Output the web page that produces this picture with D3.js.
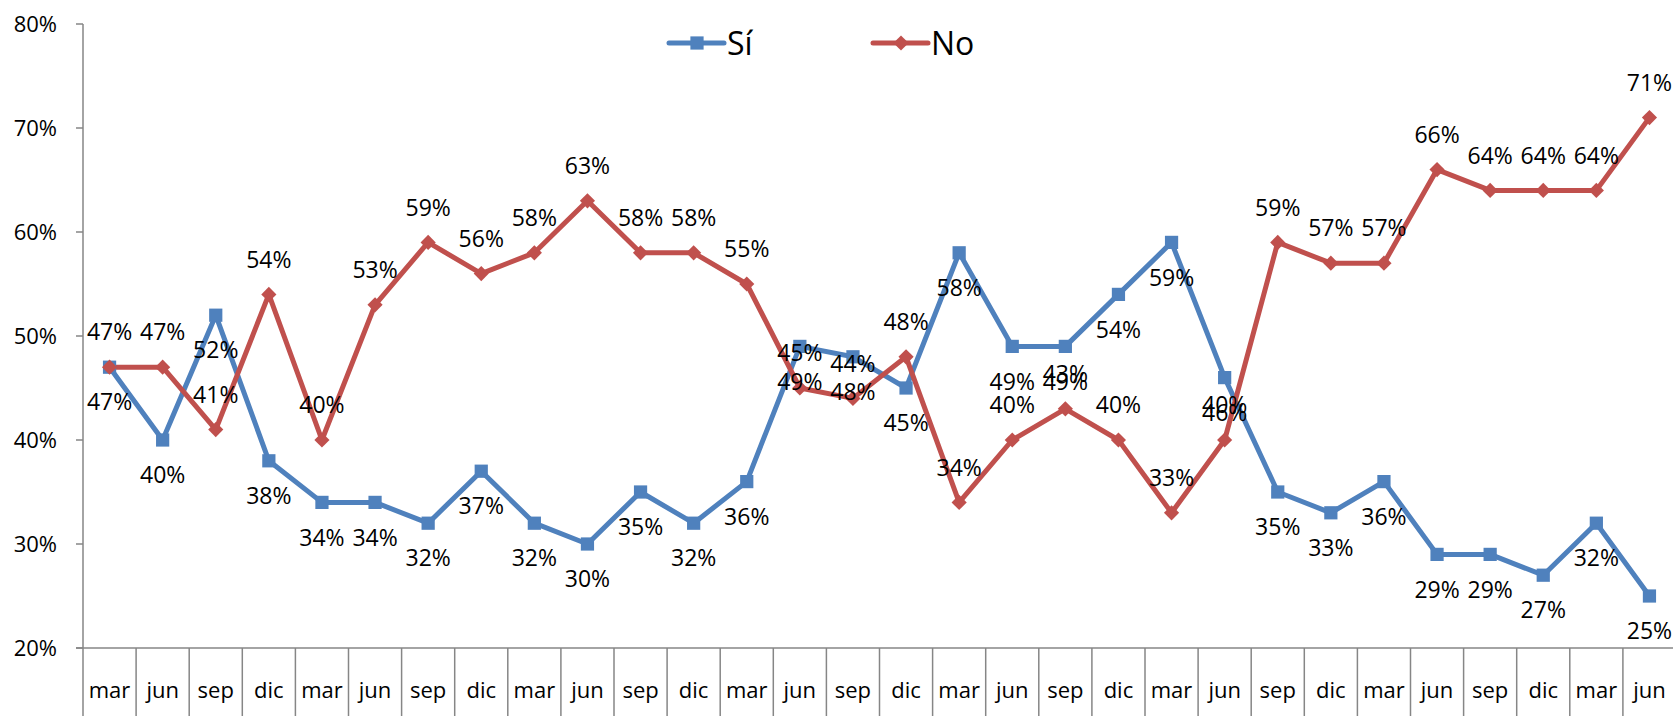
<!DOCTYPE html>
<html>
<head>
<meta charset="utf-8">
<script src="https://cdn.jsdelivr.net/npm/d3@7"></script>
<style>
  body { margin: 0; background: #fff; }
  svg { display: block; font-family: "Open Sans", sans-serif; }
</style>
</head>
<body>
<div id="chart"></div>
<script>
// datos
var meses = ["mar","jun","sep","dic","mar","jun","sep","dic","mar","jun","sep","dic","mar","jun","sep",
             "dic","mar","jun","sep","dic","mar","jun","sep","dic","mar","jun","sep","dic","mar","jun"];
var si = [47,40,52,38,34,34,32,37,32,30,35,32,36,49,48,45,58,49,49,54,59,46,35,33,36,29,29,27,32,25];
var no = [47,47,41,54,40,53,59,56,58,63,58,58,55,45,44,48,34,40,43,40,33,40,59,57,57,66,64,64,64,71];
var yTicks = [20,30,40,50,60,70,80];

var width = 1673, height = 716;
var mLeft = 83, mRight = 1676, mTop = 24, mBottom = 648;
var azul = "#4F81BD", rojo = "#C0504D", gris = "#868686";

var svg = d3.select("#chart").append("svg")
    .attr("width", width)
    .attr("height", height);

var x = d3.scaleBand()
    .domain(d3.range(meses.length))
    .range([mLeft, mRight]);
var y = d3.scaleLinear()
    .domain([20, 80])
    .range([mBottom, mTop]);

// eje y
svg.append("line")
    .attr("x1", mLeft).attr("x2", mLeft)
    .attr("y1", mTop).attr("y2", height)
    .style("stroke", gris).style("stroke-width", 1.5);
svg.selectAll(".ytick")
    .data(yTicks)
    .enter()
    .append("line")
    .attr("x1", mLeft - 7).attr("x2", mLeft)
    .attr("y1", d => y(d)).attr("y2", d => y(d))
    .style("stroke", gris).style("stroke-width", 1.5);
svg.selectAll(".ylab")
    .data(yTicks)
    .enter()
    .append("text")
    .attr("x", 57)
    .attr("y", d => y(d))
    .attr("dy", "0.36em")
    .attr("text-anchor", "end")
    .attr("font-size", 22)
    .text(d => d + "%");

// eje x
svg.append("line")
    .attr("x1", mLeft - 7).attr("x2", mRight)
    .attr("y1", mBottom).attr("y2", mBottom)
    .style("stroke", gris).style("stroke-width", 1.5);
svg.selectAll(".sep")
    .data(d3.range(1, meses.length + 1))
    .enter()
    .append("line")
    .attr("x1", d => mLeft + d * x.step()).attr("x2", d => mLeft + d * x.step())
    .attr("y1", mBottom).attr("y2", height)
    .style("stroke", gris).style("stroke-width", 1.5);
svg.selectAll(".xlab")
    .data(meses)
    .enter()
    .append("text")
    .attr("x", (d, i) => x(i) + x.bandwidth() / 2)
    .attr("y", 690)
    .attr("dy", "0.36em")
    .attr("text-anchor", "middle")
    .attr("font-size", 22)
    .text(d => d);

var cx = i => x(i) + x.bandwidth() / 2;
var linea = d3.line()
    .x((d, i) => cx(i))
    .y(d => y(d));

// series
svg.append("path")
    .datum(si)
    .attr("d", linea)
    .style("fill", "none").style("stroke", azul).style("stroke-width", 5)
    .style("stroke-linejoin", "round");
svg.append("path")
    .datum(no)
    .attr("d", linea)
    .style("fill", "none").style("stroke", rojo).style("stroke-width", 5)
    .style("stroke-linejoin", "round");

var cuadro = d3.symbol().type(d3.symbolSquare).size(175);
var rombo = d3.symbol().type(d3.symbolSquare).size(115);

svg.selectAll(".msi")
    .data(si)
    .enter()
    .append("path")
    .attr("d", cuadro)
    .attr("transform", (d, i) => "translate(" + cx(i) + "," + y(d) + ")")
    .style("fill", azul);
svg.selectAll(".mno")
    .data(no)
    .enter()
    .append("path")
    .attr("d", rombo)
    .attr("transform", (d, i) => "translate(" + cx(i) + "," + y(d) + ") rotate(45)")
    .style("fill", rojo);

// etiquetas: Sí debajo, No encima
svg.selectAll(".lsi")
    .data(si)
    .enter()
    .append("text")
    .attr("x", (d, i) => cx(i))
    .attr("y", d => y(d) + 35)
    .attr("dy", "0.36em")
    .attr("text-anchor", "middle")
    .attr("font-size", 23)
    .text(d => d + "%");
svg.selectAll(".lno")
    .data(no)
    .enter()
    .append("text")
    .attr("x", (d, i) => cx(i))
    .attr("y", d => y(d) - 35)
    .attr("dy", "0.36em")
    .attr("text-anchor", "middle")
    .attr("font-size", 23)
    .text(d => d + "%");

// leyenda
var leyenda = [
    {nombre: "Sí", color: azul, x: 669, marca: cuadro, rot: ""},
    {nombre: "No", color: rojo, x: 873, marca: rombo, rot: " rotate(45)"}
];
var lg = svg.selectAll(".ley")
    .data(leyenda)
    .enter()
    .append("g")
    .attr("transform", d => "translate(" + d.x + ",43)");
lg.append("line")
    .attr("x1", 0).attr("x2", 55)
    .style("stroke", d => d.color).style("stroke-width", 5)
    .style("stroke-linecap", "round");
lg.append("path")
    .attr("d", d => d.marca())
    .attr("transform", d => "translate(28,0)" + d.rot)
    .style("fill", d => d.color);
lg.append("text")
    .attr("x", 58)
    .attr("dy", "0.36em")
    .attr("font-size", 32)
    .text(d => d.nombre);
</script>
</body>
</html>
